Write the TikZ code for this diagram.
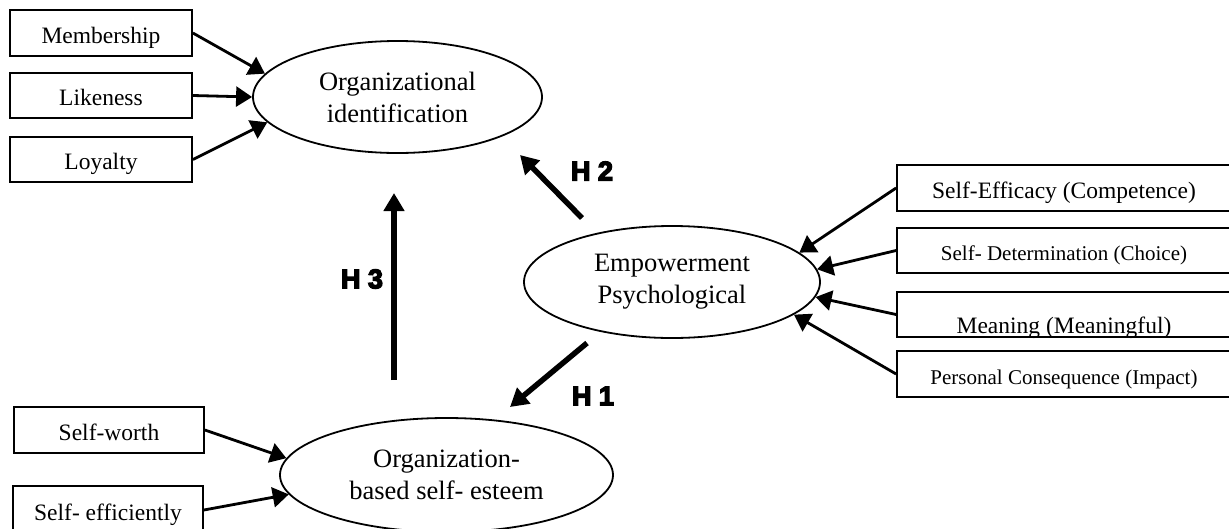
\documentclass[tikz,border=0pt]{standalone}
\usepackage{fontspec}
\setmainfont{Liberation Serif}
\newfontfamily\hfont[FakeBold=5]{Liberation Sans}
\usetikzlibrary{shapes.geometric,arrows.meta}
\begin{document}
\begin{tikzpicture}[x=1pt,y=-1pt,
  box/.style={draw, line width=1.8pt, rectangle, inner sep=0pt, minimum height=46pt,
    text height=20pt, text depth=0pt, font=\fontsize{23.5}{28}\selectfont},
  sbox/.style={box, font=\fontsize{21}{25}\selectfont},
  latent/.style={draw, ellipse, line width=1.8pt, inner sep=0pt, align=center,
    font=\fontsize{26.5}{32}\selectfont},
  link/.style={line width=2.8pt, -{Triangle[length=16pt,width=20pt]}},
  hyp/.style={line width=5.5pt, -{Triangle[length=18pt,width=20pt]}},
  hlab/.style={font=\hfont\bfseries\fontsize{27}{27}\selectfont, inner sep=0pt}]
\clip (0,0) rectangle (1229,528);
\fill[white] (0,0) rectangle (1229,528);

% latent variables
\node[latent, minimum width=289pt, minimum height=112pt] (oid) at (397.5,97) {Organizational\\identification};
\node[latent, minimum width=296pt, minimum height=112pt] (emp) at (672,282) {Empowerment\\Psychological};
\node[latent, minimum width=333pt, minimum height=114pt] (obse) at (446.5,475) {Organization-\\based self- esteem};

% left indicators
\node[box, minimum width=182pt] (mem) at (101,33) {Membership};
\node[box, minimum width=182pt, minimum height=45pt] (lik) at (101,95.5) {Likeness};
\node[box, minimum width=182pt, minimum height=45pt] (loy) at (101,159.5) {Loyalty};
\node[box, minimum width=190pt] (sw) at (109,430) {Self-worth};
\node[box, minimum width=190pt, minimum height=48pt] (sef) at (108,510) {Self- efficiently};

% right indicators
\node[box, minimum width=334pt] (se) at (1064,188) {Self-Efficacy (Competence)};
\node[sbox, minimum width=334pt, minimum height=45pt] (sd) at (1064,250.5) {Self- Determination (Choice)};
\node[box, minimum width=334pt, minimum height=45pt, text height=37pt] (mn) at (1064,314.5) {Meaning (Meaningful)};
\node[sbox, minimum width=334pt] (pc) at (1064,374) {Personal Consequence (Impact)};

% indicator arrows
\draw[link] (mem.east) -- (oid.170);
\draw[link] (lik.east) -- (oid.west);
\draw[link] (loy.east) -- (oid.191);
\draw[link] (sw.east) -- (obse.174);
\draw[link] (sef.east) -- (obse.187);
\draw[link] (se.west) -- (emp.13.5);
\draw[link] (sd.west) -- (emp.5.5);
\draw[link] (mn.west) -- (emp.354);
\draw[link] (pc.west) -- (emp.345);

% hypotheses
\coordinate (h2s) at (582,218);
\coordinate (h2e) at (520,155);
\coordinate (h3s) at (394,380);
\coordinate (h3e) at (394,193);
\coordinate (h1s) at (587,343);
\coordinate (h1e) at (510,407);
\draw[hyp] (h2s) -- (h2e);
\draw[hyp] (h3s) -- (h3e);
\draw[hyp] (h1s) -- (h1e);
\node[hlab] (l2) at (592,171) {H 2};
\node[hlab] (l3) at (362,279) {H 3};
\node[hlab] (l1) at (593,396) {H 1};
\end{tikzpicture}
\end{document}
